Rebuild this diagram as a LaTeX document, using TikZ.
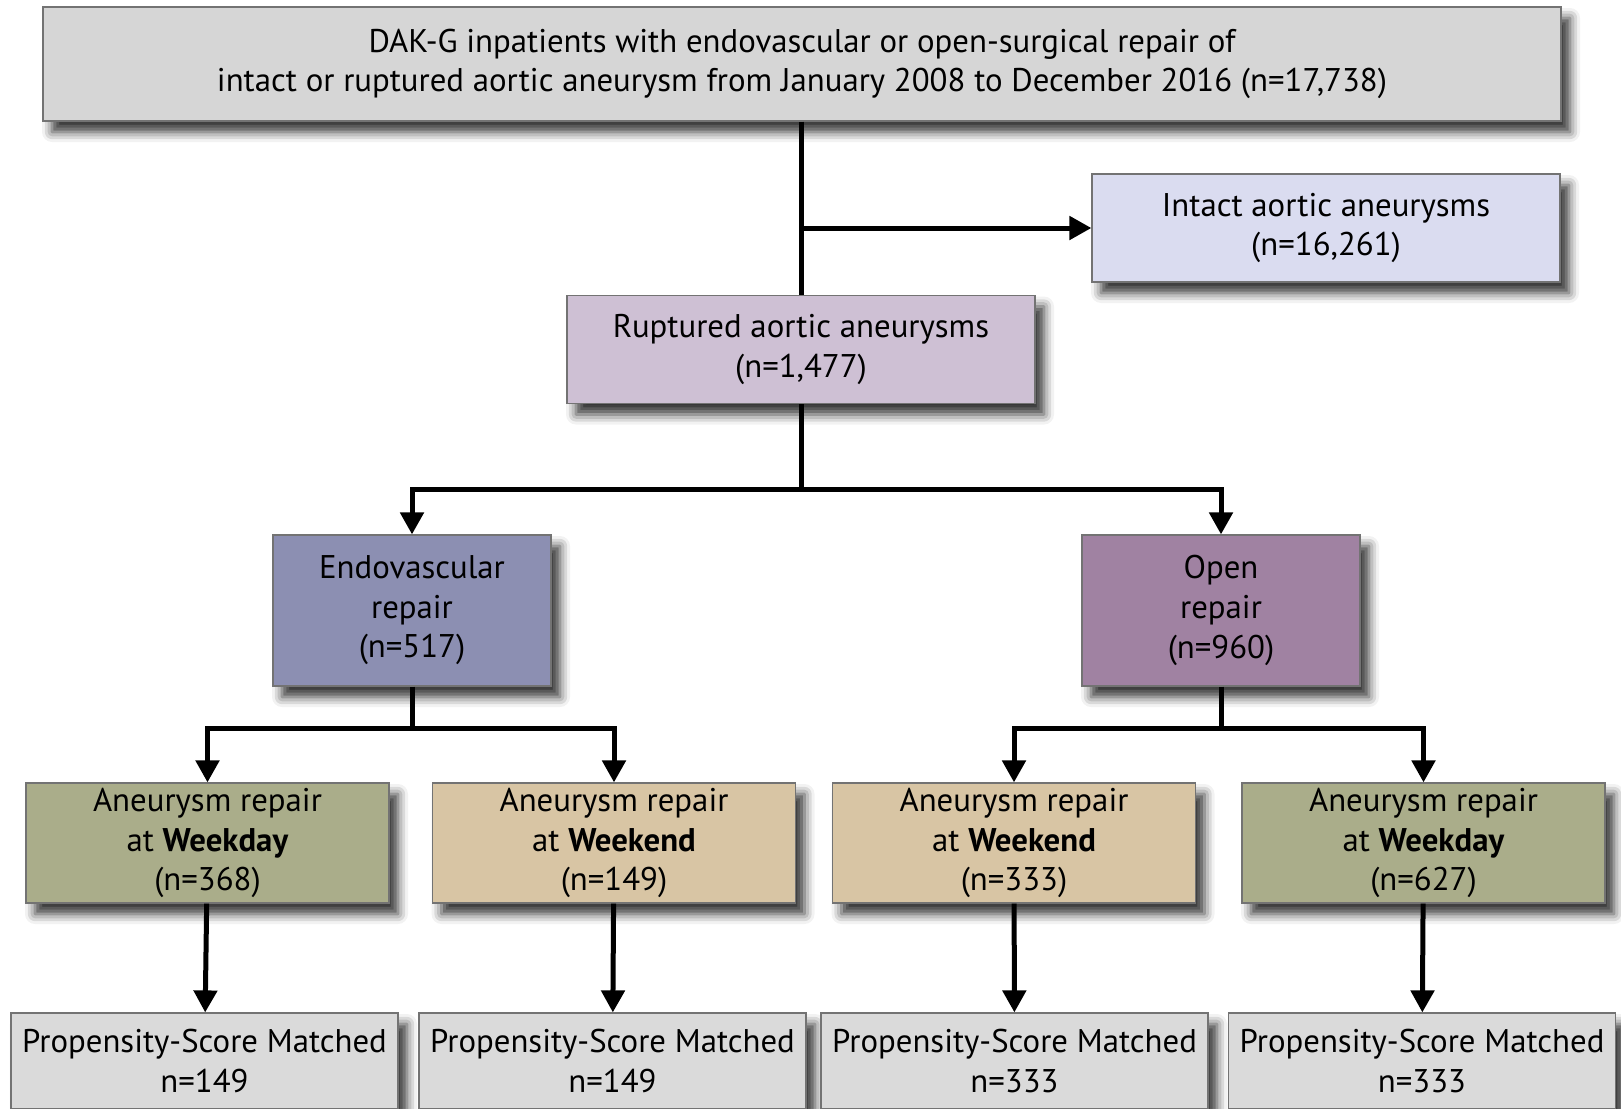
\documentclass[tikz,border=0pt]{standalone}
\usepackage{fontspec}
\setmainfont{PT Sans}
\usetikzlibrary{arrows.meta, positioning, shadows.blur}

\definecolor{cohortgray}{RGB}{214,214,214}
\definecolor{intactblue}{RGB}{218,220,240}
\definecolor{rupturedpink}{RGB}{206,192,212}
\definecolor{endoblue}{RGB}{140,143,178}
\definecolor{openmauve}{RGB}{160,130,162}
\definecolor{weekdayolive}{RGB}{170,173,138}
\definecolor{weekendtan}{RGB}{216,197,164}
\definecolor{matchedgray}{RGB}{218,218,218}

\begin{document}
\begin{tikzpicture}[
    x=0.5pt, y=-0.5pt,
    box/.style={rectangle, draw=black!55, line width=0.6pt, align=center, inner sep=0pt,
        font=\fontsize{16.4}{19.8}\selectfont,
        blur shadow={shadow xshift=4.5pt, shadow yshift=-5.5pt, shadow blur radius=5pt, shadow opacity=80}},
    cohort/.style={box, fill=cohortgray, minimum width=759pt, minimum height=57pt},
    split/.style={box, minimum width=234pt, minimum height=54pt},
    repair/.style={box, minimum width=139pt, minimum height=75.5pt},
    timing/.style={box, minimum width=181.5pt, minimum height=60pt},
    matched/.style={box, fill=matchedgray, minimum width=193.5pt, minimum height=48pt},
    line/.style={line width=2.5pt},
    arrow/.style={line, -{Triangle[length=11pt, width=11.5pt]}}
]
\useasboundingbox (0,0) rectangle (1621,1108);

% cohort and first split
\node (cohort) [cohort] at (802,64) {DAK-G inpatients with endovascular or open-surgical repair of\\intact or ruptured aortic aneurysm from January 2008 to December 2016 (n=17,738)};
\node (intact) [split, fill=intactblue] at (1326,228) {Intact aortic aneurysms\\(n=16,261)};
\node (ruptured) [split, fill=rupturedpink] at (801,349.5) {Ruptured aortic aneurysms\\(n=1,477)};

% type of repair
\node (endo) [repair, fill=endoblue] at (412,610.5) {Endovascular\\repair\\(n=517)};
\node (open) [repair, fill=openmauve] at (1221,610.5) {Open\\repair\\(n=960)};

% weekday / weekend
\node (endoday) [timing, fill=weekdayolive] at (207.5,843) {Aneurysm repair\\at \textbf{Weekday}\\(n=368)};
\node (endoend) [timing, fill=weekendtan] at (614,843) {Aneurysm repair\\at \textbf{Weekend}\\(n=149)};
\node (openend) [timing, fill=weekendtan] at (1014,843) {Aneurysm repair\\at \textbf{Weekend}\\(n=333)};
\node (openday) [timing, fill=weekdayolive] at (1423.5,843) {Aneurysm repair\\at \textbf{Weekday}\\(n=627)};

% matched samples
\node (endodaym) [matched] at (204.5,1061) {Propensity-Score Matched\\n=149};
\node (endoendm) [matched] at (612.5,1061) {Propensity-Score Matched\\n=149};
\node (openendm) [matched] at (1014.5,1061) {Propensity-Score Matched\\n=333};
\node (opendaym) [matched] at (1422,1061) {Propensity-Score Matched\\n=333};

\coordinate (splitj) at (801,489);
\coordinate (endoj) at (412,728);
\coordinate (openj) at (1221,728);

\draw [line] (cohort.south -| ruptured) -- (ruptured);
\draw [arrow] (ruptured |- intact) -- (intact);
\draw [line] (ruptured) -- (splitj);
\draw [arrow] (splitj) -| (endo);
\draw [arrow] (splitj) -| (open);
\draw [line] (endo) -- (endoj);
\draw [arrow] (endoj) -| (endoday);
\draw [arrow] (endoj) -| (endoend);
\draw [line] (open) -- (openj);
\draw [arrow] (openj) -| (openend);
\draw [arrow] (openj) -| (openday);
\draw [arrow] (endoday) -- (endodaym);
\draw [arrow] (endoend) -- (endoendm);
\draw [arrow] (openend) -- (openendm);
\draw [arrow] (openday) -- (opendaym);
\end{tikzpicture}
\end{document}
